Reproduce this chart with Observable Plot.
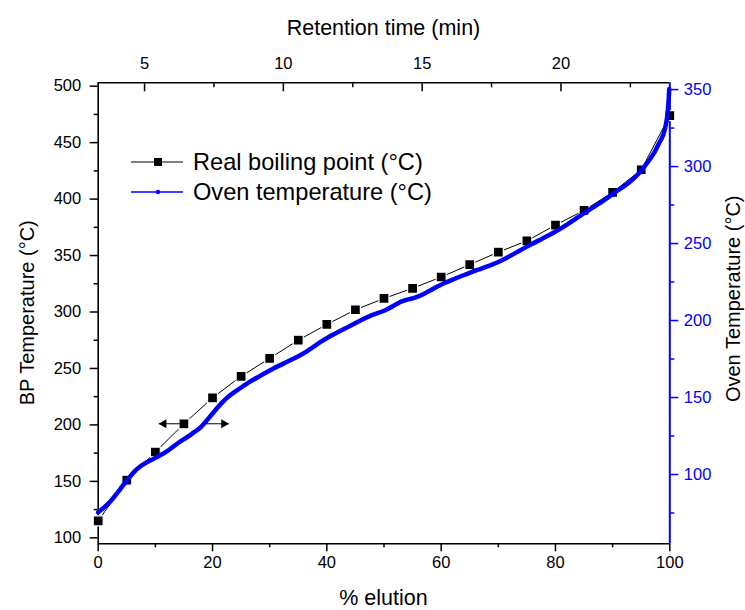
<!DOCTYPE html>
<html><head><meta charset="utf-8">
<script src="https://cdn.jsdelivr.net/npm/d3@7"></script>
<script src="https://cdn.jsdelivr.net/npm/@observablehq/plot@0.6"></script>
<style>
body{margin:0;background:#fff;}
#chart svg{display:block;}
</style></head><body><div id="chart"></div>
<script>
// Real boiling point series (% elution vs BP °C, left axis)
const elutionPct = [0,5,10,15,20,25,30,35,40,45,50,55,60,65,70,75,80,85,90,95,100];
const boilingPoint = [115,151,176,201,224,243,259,275,289,302,312,321,331,342,353,363,377,390,406,426,474];
// Oven temperature series (% elution vs oven °C, right axis)
const ovenPct  = [0,2,5,6.5,10,11.8,13.8,16.4,18,20.2,22,25,30,36.7,38.4,41.9,43.6,47.7,50.1,53.5,55.3,60.5,65,70,75,80.9,84.5,89.8,95.1,98.0,99.2,99.75,99.9];
const ovenTemp = [75.5,82,96,102.5,110.8,114.5,120,126.4,131,140.5,148,156.5,167.5,180.5,184.9,192.4,195.6,203.2,206.5,213,214.7,224.2,231,238,248,259.7,268.5,281.6,297.9,314.3,325.3,340.5,350.3];
// Axis ticks
const bpTicks = [100,150,200,250,300,350,400,450,500];
const bpMinorTicks = [125,175,225,275,325,375,425,475];
const ovenTicks = [100,150,200,250,300,350];
const ovenMinorTicks = [75,125,175,225,275,325];
const pctTicks = [0,20,40,60,80,100];
const pctMinorTicks = [10,30,50,70,90];
const timeTicks = [5,10,15,20];
const timeMinorTicks = [7.5,12.5,17.5,22.5];
// Arrow annotations (at BP level)
const arrowStart = [14.4, 18.2];
const arrowEnd = [10.6, 22.85];
const arrowLevel = [201, 201];

const bpDomain = [94.7, 503];
const ovenDomain = [55, 354.4];
const timeDomain = [3.33, 23.92];
const BLUE = "#0000ff";

const ovenToBP = d3.scaleLinear().domain(ovenDomain).range(bpDomain);
const timeToPct = d3.scaleLinear().domain(timeDomain).range([0, 100]);

const bpData = elutionPct.map((p, i) => ({pct: p, bp: boilingPoint[i]}));
const ovenData = ovenPct.map((p, i) => ({pct: p, temp: ovenTemp[i]}));
const arrows = arrowStart.map((s, i) => ({x1: s, x2: arrowEnd[i], bp: arrowLevel[i], left: arrowEnd[i] < s}));

const W = 745, H = 610;
const mL = 97.7, mR = 75.7, mT = 82.3, mB = 66.7;

const fig = Plot.plot({
  width: W, height: H,
  marginLeft: mL, marginRight: mR, marginTop: mT, marginBottom: mB,
  style: {fontFamily: "'Liberation Sans', Arial, sans-serif", fontSize: "16.5px", color: "#000", background: "#fff"},
  x: {domain: [0, 100]},
  y: {domain: bpDomain},
  marks: [
    // axes: left
    Plot.axisY(bpTicks, {anchor: "left", tickSize: 8, tickPadding: 9, strokeWidth: 1.5, label: null, fontSize: 16.5}),
    Plot.axisY(bpMinorTicks, {anchor: "left", tickSize: 4, strokeWidth: 1.5, tickFormat: () => "", label: null}),
    // right (oven)
    Plot.axisY(ovenTicks.map(ovenToBP), {anchor: "right", tickSize: 8, tickPadding: 6, strokeWidth: 1.5, stroke: BLUE, fill: BLUE, label: null, fontSize: 16.5, tickFormat: d => Math.round(ovenToBP.invert(d))}),
    Plot.axisY(ovenMinorTicks.map(ovenToBP), {anchor: "right", tickSize: 4, strokeWidth: 1.5, stroke: BLUE, tickFormat: () => "", label: null}),
    // bottom
    Plot.axisX(pctTicks, {anchor: "bottom", tickSize: 8, tickPadding: 4, strokeWidth: 1.5, label: null, fontSize: 16.5}),
    Plot.axisX(pctMinorTicks, {anchor: "bottom", tickSize: 4, strokeWidth: 1.5, tickFormat: () => "", label: null}),
    // top (retention time), ticks inward
    Plot.axisX(timeTicks.map(timeToPct), {anchor: "top", tickSize: 8, dy: 8, strokeWidth: 1.5, tickFormat: () => "", label: null}),
    Plot.axisX(timeMinorTicks.map(timeToPct), {anchor: "top", tickSize: 4, dy: 4, strokeWidth: 1.5, tickFormat: () => "", label: null}),
    Plot.axisX(timeTicks.map(timeToPct), {anchor: "top", tickSize: 0, tickPadding: 14, label: null, fontSize: 16.5, tickFormat: d => Math.round(timeToPct.invert(d))}),
    // frame
    Plot.ruleX([0], {stroke: "#000", strokeWidth: 1.6}),
    Plot.ruleY(bpDomain, {stroke: "#000", strokeWidth: 1.6}),
    Plot.ruleX([100], {stroke: BLUE, strokeWidth: 2}),
    // BP series
    Plot.line(bpData, {x: "pct", y: "bp", stroke: "#000", strokeWidth: 1}),
    Plot.dot(bpData, {x: "pct", y: "bp", symbol: "square", r: 5.6, fill: "#000", stroke: "#fff", strokeWidth: 1.2}),
    // Oven series
    Plot.line(ovenData, {x: "pct", y: d => ovenToBP(d.temp), stroke: BLUE, strokeWidth: 4.5, curve: "monotone-x", strokeDasharray: "13,1.3"}),
    // arrows
    Plot.link(arrows, {x1: "x1", x2: "x2", y1: "bp", y2: "bp", stroke: "#000", strokeWidth: 1}),
    Plot.dot(arrows.filter(d => d.left), {x: "x2", y: "bp", symbol: "triangle", r: 3.3, fill: "#000", rotate: -90, dx: 5}),
    Plot.dot(arrows.filter(d => !d.left), {x: "x2", y: "bp", symbol: "triangle", r: 3.3, fill: "#000", rotate: 90, dx: -5})
  ]
});

document.getElementById("chart").appendChild(fig);

const svg = d3.select(fig);
const font = "'Liberation Sans', Arial, sans-serif";
const cx = (mL + (W - mR)) / 2;
const cy = (mT + (H - mB)) / 2;
// axis titles
svg.append("text").attr("x", cx).attr("y", 27).attr("dy", "0.35em").attr("text-anchor", "middle")
  .attr("font-family", font).attr("font-size", 21.5).attr("fill", "#000").text("Retention time (min)");
svg.append("text").attr("x", cx).attr("y", 597).attr("dy", "0.35em").attr("text-anchor", "middle")
  .attr("font-family", font).attr("font-size", 21.5).attr("fill", "#000").text("% elution");
svg.append("text").attr("transform", `translate(27,${cy}) rotate(-90)`).attr("dy", "0.35em").attr("text-anchor", "middle")
  .attr("font-family", font).attr("font-size", 20).attr("fill", "#000").text("BP Temperature (°C)");
svg.append("text").attr("transform", `translate(733,${cy - 14}) rotate(-90)`).attr("dy", "0.35em").attr("text-anchor", "middle")
  .attr("font-family", font).attr("font-size", 20).attr("fill", "#000").text("Oven Temperature (°C)");

// legend
const lg = svg.append("g").attr("text-anchor", "start");
lg.append("line").attr("x1", 131).attr("x2", 183).attr("y1", 162).attr("y2", 162).attr("stroke", "#000").attr("stroke-width", 1);
lg.append("rect").attr("x", 154).attr("y", 158).attr("width", 8).attr("height", 8).attr("fill", "#000");
lg.append("text").attr("x", 193).attr("y", 162).attr("dy", "0.35em").attr("text-anchor", "start").attr("font-family", font).attr("font-size", 23.6).attr("fill", "#000").text("Real boiling point (°C)");
lg.append("line").attr("x1", 131).attr("x2", 183).attr("y1", 192).attr("y2", 192).attr("stroke", BLUE).attr("stroke-width", 1.5);
lg.append("circle").attr("cx", 158).attr("cy", 192).attr("r", 2.2).attr("fill", BLUE);
lg.append("text").attr("x", 193).attr("y", 192).attr("dy", "0.35em").attr("text-anchor", "start").attr("font-family", font).attr("font-size", 23.6).attr("fill", "#000").text("Oven temperature (°C)");
</script></body></html>
